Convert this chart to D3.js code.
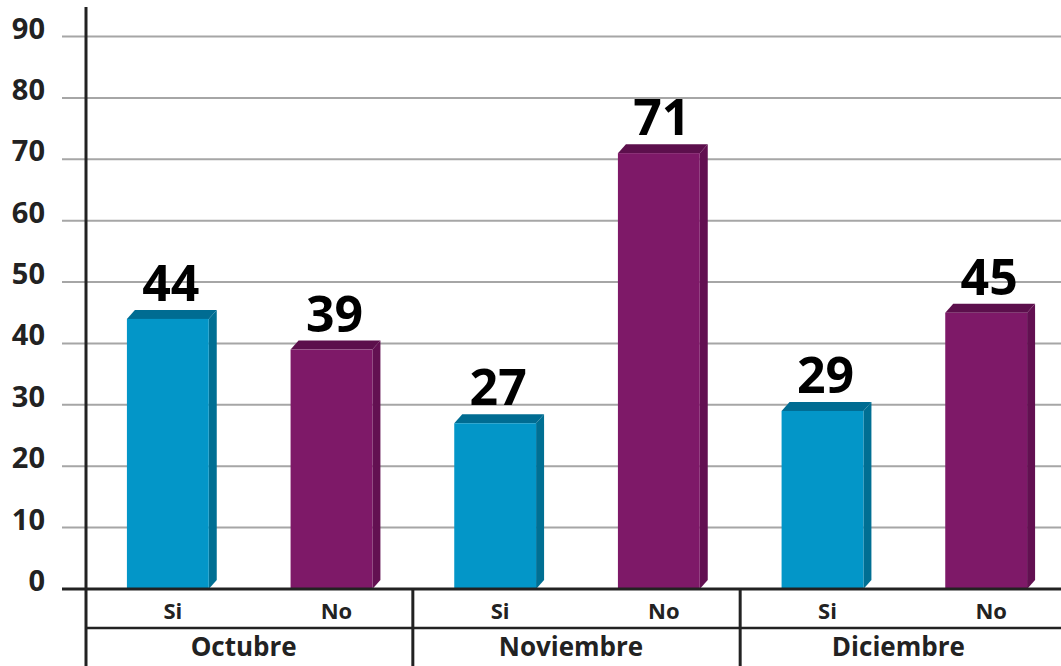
<!DOCTYPE html>
<html><head><meta charset="utf-8">
<script src="https://cdn.jsdelivr.net/npm/d3@7"></script>
<style>body{margin:0;background:#fff}svg{display:block}text{font-family:"Open Sans",sans-serif;font-weight:bold}</style>
</head><body><svg id="c" width="1061" height="666"></svg>
<script>
const months = ["Octubre", "Noviembre", "Diciembre"];
const answers = ["Si", "No"];
const siValues = [44, 27, 29];
const noValues = [39, 71, 45];
const yTicks = [0, 10, 20, 30, 40, 50, 60, 70, 80, 90];

const data = [];
months.forEach((m, i) => {
  data.push({month: m, answer: "Si", value: siValues[i]});
  data.push({month: m, answer: "No", value: noValues[i]});
});

const svg = d3.select("#c");
const x0 = d3.scaleBand().domain(months).range([86, 1068]).padding(0);
const x1 = d3.scaleBand().domain(answers).range([0, x0.bandwidth()]).paddingInner(0.5).paddingOuter(0.25);
const y = d3.scaleLinear().domain([0, 90]).range([589, 36.5]);
const colors = {
  Si: {front: "#0396c8", side: "#006f93", top: "#006c92"},
  No: {front: "#7e1968", side: "#621051", top: "#5c0f4c"}
};
const dx = 8, dy = 9;

// gridlines
svg.append("g").selectAll("line").data(yTicks.filter(t => t > 0)).join("line")
  .attr("x1", 62).attr("x2", 1061)
  .attr("y1", d => y(d)).attr("y2", d => y(d))
  .attr("stroke", "#a6a6a6").attr("stroke-width", 2);

// y tick labels
svg.append("g").selectAll("text").data(yTicks).join("text")
  .attr("x", 45).attr("y", d => y(d) + 2)
  .attr("text-anchor", "end").attr("font-size", 29).attr("fill", "#222")
  .text(d => d);

// bars
const bars = svg.append("g").selectAll("g").data(data).join("g")
  .attr("transform", d => `translate(${x0(d.month) + x1(d.answer)},0)`);
const bw = x1.bandwidth();
bars.append("path") // side
  .attr("d", d => `M${bw},${y(d.value)}L${bw + dx},${y(d.value) - dy}L${bw + dx},${y(0) - dy}L${bw},${y(0)}Z`)
  .attr("fill", d => colors[d.answer].side);
bars.append("path") // top
  .attr("d", d => `M0,${y(d.value)}L${dx},${y(d.value) - dy}L${bw + dx},${y(d.value) - dy}L${bw},${y(d.value)}Z`)
  .attr("fill", d => colors[d.answer].top);
bars.append("rect")
  .attr("x", 0).attr("width", bw)
  .attr("y", d => y(d.value)).attr("height", d => y(0) - y(d.value))
  .attr("fill", d => colors[d.answer].front);
bars.append("text")
  .attr("x", bw / 2 + 3).attr("y", d => y(d.value) - 18)
  .attr("text-anchor", "middle").attr("font-size", 50).attr("fill", "#000")
  .text(d => d.value);

// axes lines
svg.append("line").attr("x1", 86).attr("x2", 86).attr("y1", 7).attr("y2", 666)
  .attr("stroke", "#222").attr("stroke-width", 3);
svg.append("line").attr("x1", 62).attr("x2", 1061).attr("y1", y(0)).attr("y2", y(0))
  .attr("stroke", "#222").attr("stroke-width", 3);
svg.append("line").attr("x1", 86).attr("x2", 1061).attr("y1", 628).attr("y2", 628)
  .attr("stroke", "#222").attr("stroke-width", 2.5);
svg.append("g").selectAll("line").data(months.slice(1)).join("line")
  .attr("x1", d => x0(d) - 0.5).attr("x2", d => x0(d) - 0.5)
  .attr("y1", y(0)).attr("y2", 666)
  .attr("stroke", "#222").attr("stroke-width", 3);

// sub-category labels
svg.append("g").selectAll("text").data(data).join("text")
  .attr("x", d => x0(d.month) + x1(d.answer) + bw / 2 + 5).attr("y", 619)
  .attr("text-anchor", "middle").attr("font-size", 22).attr("fill", "#222")
  .text(d => d.answer);
// month labels
svg.append("g").selectAll("text").data(months).join("text")
  .attr("x", d => x0(d) + x0.bandwidth() / 2 - 6).attr("y", 656)
  .attr("text-anchor", "middle").attr("font-size", 26).attr("fill", "#222")
  .text(d => d);
</script></body></html>
